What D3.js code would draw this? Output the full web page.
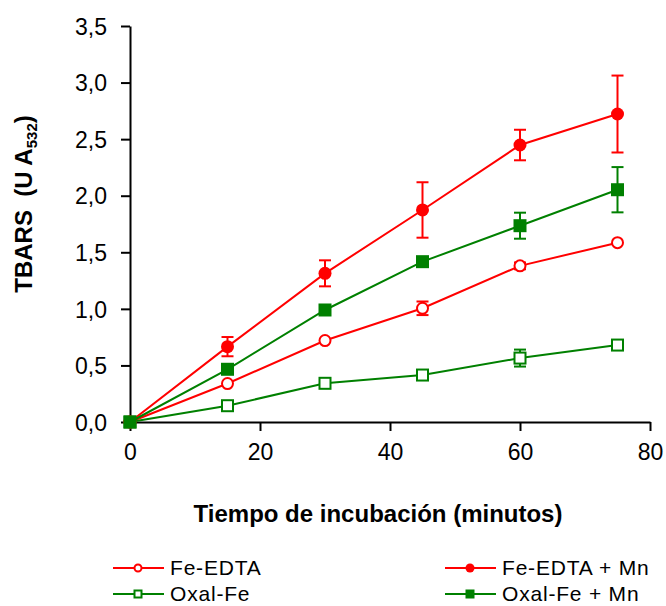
<!DOCTYPE html>
<html>
<head>
<meta charset="utf-8">
<script src="https://cdn.jsdelivr.net/npm/d3@7"></script>
<style>
  body { margin: 0; background: #fff; }
  svg { font-family: "Liberation Sans", Arial, sans-serif; }
</style>
</head>
<body>
<div id="grafico"></div>
<script>
// Datos
const tiempos = [0, 15, 30, 45, 60, 75];
const series = ["Fe-EDTA", "Fe-EDTA + Mn", "Oxal-Fe", "Oxal-Fe + Mn"];
const feEdta = [0, 0.34, 0.72, 1.005, 1.38, 1.585];
const feEdtaErr = [0, 0, 0, 0.06, 0.03, 0];
const feEdtaMn = [0, 0.666, 1.314, 1.874, 2.448, 2.722];
const feEdtaMnErr = [0, 0.085, 0.115, 0.245, 0.135, 0.34];
const oxalFe = [0, 0.144, 0.342, 0.415, 0.565, 0.68];
const oxalFeErr = [0, 0, 0, 0, 0.075, 0];
const oxalFeMn = [0, 0.466, 0.99, 1.417, 1.735, 2.053];
const oxalFeMnErr = [0, 0, 0, 0.04, 0.115, 0.2];
const ticksX = [0, 20, 40, 60, 80];
const ticksY = [0, 0.5, 1, 1.5, 2, 2.5, 3, 3.5];

const width = 666;
const height = 606;
const rojo = "#ff0000";
const verde = "#008000";

const datos = [
    { nombre: series[0], valores: feEdta, errores: feEdtaErr, color: rojo, forma: "circulo", relleno: false },
    { nombre: series[2], valores: oxalFe, errores: oxalFeErr, color: verde, forma: "cuadrado", relleno: false },
    { nombre: series[1], valores: feEdtaMn, errores: feEdtaMnErr, color: rojo, forma: "circulo", relleno: true },
    { nombre: series[3], valores: oxalFeMn, errores: oxalFeMnErr, color: verde, forma: "cuadrado", relleno: true }
];

const svg = d3.select("#grafico")
    .append("svg")
    .attr("width", width)
    .attr("height", height);

const x = d3.scaleLinear().domain([0, 80]).range([130, 650]);
const y = d3.scaleLinear().domain([0, 3.5]).range([422, 26]);

// Ejes
const ejeX = svg.append("g")
    .attr("transform", `translate(0, ${y(0)})`)
    .call(d3.axisBottom(x).tickValues(ticksX).tickSize(9).tickSizeOuter(0).tickPadding(13));

const ejeY = svg.append("g")
    .attr("transform", `translate(${x(0)}, 0)`)
    .call(d3.axisLeft(y).tickValues(ticksY).tickSize(9).tickSizeOuter(0).tickPadding(14)
        .tickFormat(d => d3.format(".1f")(d).replace(".", ",")));

[ejeX, ejeY].forEach(eje => {
    eje.select(".domain").attr("stroke", "#000").attr("stroke-width", 2);
    eje.selectAll(".tick line").attr("stroke", "#000").attr("stroke-width", 2);
    eje.selectAll(".tick text")
        .attr("fill", "#000")
        .style("font-size", "23px")
        .style("font-family", "Liberation Sans, Arial, sans-serif");
});
ejeY.selectAll(".tick text").attr("dy", "0.36em");

// Títulos de ejes
svg.append("text")
    .attr("x", 378)
    .attr("y", 522)
    .attr("text-anchor", "middle")
    .style("font-size", "24px")
    .style("font-weight", "bold")
    .text("Tiempo de incubación (minutos)");

const tituloY = svg.append("text")
    .attr("transform", "translate(32, 204) rotate(-90)")
    .attr("text-anchor", "middle")
    .style("font-size", "24px")
    .style("font-weight", "bold");
tituloY.append("tspan").text("TBARS\u00a0\u00a0(U A");
tituloY.append("tspan").attr("dy", 5).style("font-size", "15px").text("532");
tituloY.append("tspan").attr("dy", -5).text(")");

// Dibuja un marcador según la serie
function marcador(g, s, cx, cy, tam) {
    if (s.forma === "circulo") {
        g.append("circle")
            .attr("cx", cx).attr("cy", cy)
            .attr("r", s.relleno ? tam / 2 : tam / 2 - 1)
            .attr("fill", s.relleno ? s.color : "#fff")
            .attr("stroke", s.color)
            .attr("stroke-width", s.relleno ? 0 : 2);
    } else {
        const lado = s.relleno ? tam : tam - 2;
        g.append("rect")
            .attr("x", cx - lado / 2).attr("y", cy - lado / 2)
            .attr("width", lado).attr("height", lado)
            .attr("fill", s.relleno ? s.color : "#fff")
            .attr("stroke", s.color)
            .attr("stroke-width", s.relleno ? 0 : 2);
    }
}

const linea = d3.line()
    .x((d, i) => x(tiempos[i]))
    .y(d => y(d));

datos.forEach(s => {
    const g = svg.append("g");

    // Barras de error
    s.errores.forEach((e, i) => {
        if (e <= 0) return;
        const cx = x(tiempos[i]);
        g.append("line")
            .attr("x1", cx).attr("x2", cx)
            .attr("y1", y(s.valores[i] + e)).attr("y2", y(s.valores[i] - e))
            .attr("stroke", s.color).attr("stroke-width", 2);
        [s.valores[i] + e, s.valores[i] - e].forEach(v => {
            g.append("line")
                .attr("x1", cx - 6).attr("x2", cx + 6)
                .attr("y1", y(v)).attr("y2", y(v))
                .attr("stroke", s.color).attr("stroke-width", 2);
        });
    });

    g.append("path")
        .datum(s.valores)
        .attr("d", linea)
        .attr("fill", "none")
        .attr("stroke", s.color)
        .attr("stroke-width", 2);

    s.valores.forEach((v, i) => marcador(g, s, x(tiempos[i]), y(v), 13));
});

// Leyenda en dos columnas
const leyenda = svg.append("g");
const ordenLeyenda = [datos[0], datos[2], datos[1], datos[3]];
ordenLeyenda.forEach((s, i) => {
    const col = i % 2;
    const fila = Math.floor(i / 2);
    const x0 = col === 0 ? 113 : 445;
    const yy = 568 + fila * 26;
    const fil = leyenda.append("g");
    fil.append("line")
        .attr("x1", x0).attr("x2", x0 + 51)
        .attr("y1", yy).attr("y2", yy)
        .attr("stroke", s.color).attr("stroke-width", 2);
    marcador(fil, s, x0 + 25, yy, 9);
    fil.append("text")
        .attr("x", x0 + 57)
        .attr("y", yy + 7.3)
        .style("font-size", "21px")
        .style("letter-spacing", "0.8px")
        .attr("fill", "#000")
        .text(s.nombre);
});
</script>
</body>
</html>
